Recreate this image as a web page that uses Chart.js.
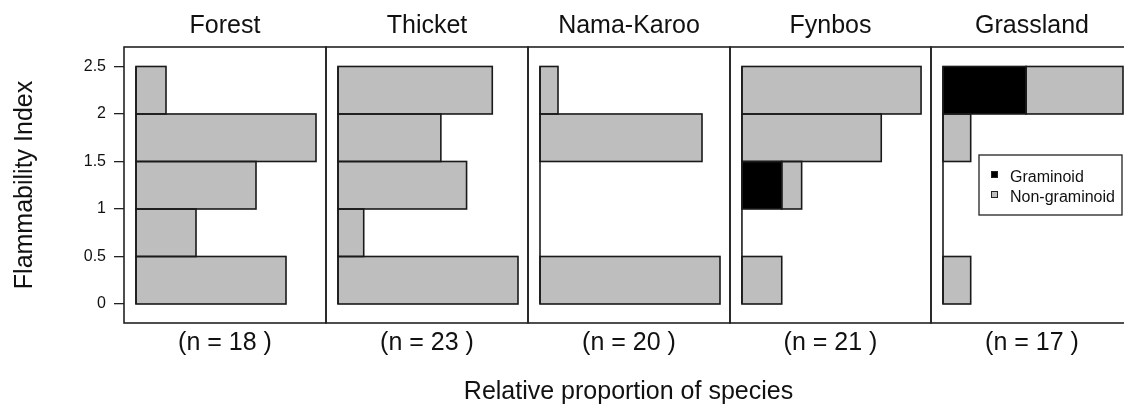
<!DOCTYPE html>
<html>
<head>
<meta charset="utf-8">
<script src="https://cdn.jsdelivr.net/npm/chart.js@4.4.1/dist/chart.umd.min.js"></script>
<style>
  html, body { margin: 0; padding: 0; background: #fff; overflow: hidden; }
  #wrap { position: relative; width: 1140px; height: 405px; }
  #wrap canvas { position: absolute; left: 0; top: 0; }
</style>
</head>
<body>
<div id="wrap"></div>
<script>
// Vegetation types and the number of species sampled in each
const habitats = ['Forest', 'Thicket', 'Nama-Karoo', 'Fynbos', 'Grassland'];
const speciesTotals = [18, 23, 20, 21, 17];

// Flammability index bins (centres) and the tick labels on the bin edges
const binCentres = [0.25, 0.75, 1.25, 1.75, 2.25];
const indexTicks = [0, 0.5, 1, 1.5, 2, 2.5];

// Species counts per bin (0-0.5, 0.5-1, 1-1.5, 1.5-2, 2-2.5), one row per habitat
const graminoidCounts = [
  [0, 0, 0, 0, 0],
  [0, 0, 0, 0, 0],
  [0, 0, 0, 0, 0],
  [0, 0, 2, 0, 0],
  [0, 0, 0, 0, 6]
];
const nonGraminoidCounts = [
  [5, 2, 4, 6, 1],
  [7, 1, 5, 4, 6],
  [10, 0, 0, 9, 1],
  [2, 0, 1, 7, 9],
  [2, 0, 0, 2, 7]
];

const seriesNames = ['Graminoid', 'Non-graminoid'];
const seriesColours = ['#000000', '#BEBEBE'];

// ---- layout ----
const W = 1140, H = 405;
const FAMILY = '"Liberation Sans", Arial, Helvetica, sans-serif';
const TEXT = '#111';
const EDGE = '#1a1a1a';
const panelLefts = [124, 326, 528, 730, 931];
const panelRights = [326, 528, 730, 931, 1133];
const panelTop = 47, panelBottom = 323;

// Outlines, zero line, frame, header, sample size and (optionally) the key
const panelFrame = {
  id: 'panelFrame',
  afterDatasetsDraw(chart, args, opts) {
    const { ctx, chartArea: a, scales: { x, y } } = chart;
    ctx.save();

    // bar outlines, centred on the bar edges so neighbouring bins share one line
    ctx.strokeStyle = EDGE;
    ctx.lineWidth = 1.6;
    chart.data.datasets.forEach((ds, d) => {
      chart.getDatasetMeta(d).data.forEach(el => {
        const p = el.getProps(['x', 'y', 'base', 'height'], true);
        const l = Math.min(p.x, p.base), r = Math.max(p.x, p.base);
        if (r - l < 0.5) return;
        ctx.strokeRect(l, p.y - p.height / 2, r - l, p.height);
      });
    });

    // zero line along the binned range (shows empty bins)
    const x0 = x.getPixelForValue(0);
    ctx.beginPath();
    ctx.moveTo(x0, y.getPixelForValue(indexTicks[0]));
    ctx.lineTo(x0, y.getPixelForValue(indexTicks[indexTicks.length - 1]));
    ctx.stroke();

    // panel box
    ctx.strokeStyle = '#222';
    ctx.lineWidth = 1.6;
    ctx.strokeRect(a.left, a.top, a.right - a.left, a.bottom - a.top);

    // header and sample size
    const cx = (a.left + a.right) / 2;
    ctx.fillStyle = TEXT;
    ctx.font = '25px ' + FAMILY;
    ctx.textAlign = 'center';
    ctx.textBaseline = 'alphabetic';
    ctx.fillText(opts.title, cx, 33);
    ctx.fillText('(n = ' + opts.n + ' )', cx, 350);

    if (opts.axisTitle) {
      const mid = (panelLefts[0] + panelRights[panelRights.length - 1]) / 2;
      ctx.fillText(opts.axisTitle, mid, 399);
    }

    if (opts.key) {
      const bx = a.left + 48, by = 155, bw = 143, bh = 60;
      ctx.fillStyle = '#fff';
      ctx.fillRect(bx, by, bw, bh);
      ctx.strokeStyle = '#222';
      ctx.lineWidth = 1.3;
      ctx.strokeRect(bx, by, bw, bh);
      ctx.font = '16px ' + FAMILY;
      ctx.textAlign = 'left';
      chart.data.datasets.forEach((ds, k) => {
        const rowY = 175 + k * 20;
        ctx.fillStyle = ds.backgroundColor;
        ctx.fillRect(bx + 12, rowY - 4, 7, 7);
        ctx.strokeStyle = '#222';
        ctx.lineWidth = 1;
        ctx.strokeRect(bx + 12.5, rowY - 3.5, 6, 6);
        ctx.fillStyle = TEXT;
        ctx.fillText(ds.label, bx + 31, rowY + 7);
      });
    }
    ctx.restore();
  }
};

const wrap = document.getElementById('wrap');

habitats.forEach((name, i) => {
  const canvas = document.createElement('canvas');
  canvas.width = W;
  canvas.height = H;
  wrap.appendChild(canvas);

  const n = speciesTotals[i];
  const countSets = [graminoidCounts[i], nonGraminoidCounts[i]];
  const datasets = countSets.map((counts, s) => ({
    label: seriesNames[s],
    data: binCentres.map((b, k) => ({ x: counts[k] / n, y: b })),
    backgroundColor: seriesColours[s],
    borderWidth: 0,
    categoryPercentage: 1,
    barPercentage: 1,
    inflateAmount: 0
  }));

  // widest stacked bar sets this panel's horizontal extent
  const widest = Math.max(...binCentres.map((b, k) =>
    (graminoidCounts[i][k] + nonGraminoidCounts[i][k]) / n));

  const first = i === 0;
  const yScale = {
    type: 'linear',
    min: -0.2,
    max: 2.705,
    offset: false,
    stacked: true,
    display: first,
    afterBuildTicks(scale) { scale.ticks = indexTicks.map(v => ({ value: v })); },
    grid: { offset: false }
  };
  if (first) {
    Object.assign(yScale, {
      afterFit(scale) { scale.width = panelLefts[0]; },
      grid: { display: true, offset: false, drawOnChartArea: false, drawTicks: true, tickLength: 10, color: '#222', lineWidth: 1.3 },
      border: { display: false },
      ticks: { font: { size: 16, family: FAMILY }, color: TEXT, padding: 8, callback: v => String(v) },
      title: { display: true, text: 'Flammability Index', font: { size: 25, family: FAMILY }, color: TEXT, padding: { top: 10, bottom: 0 } }
    });
  }

  new Chart(canvas, {
    type: 'bar',
    data: { datasets },
    plugins: [panelFrame],
    options: {
      indexAxis: 'y',
      responsive: false,
      animation: false,
      events: [],
      layout: {
        padding: {
          left: first ? 0 : panelLefts[i],
          right: W - panelRights[i],
          top: panelTop,
          bottom: H - panelBottom
        }
      },
      scales: {
        x: {
          type: 'linear',
          stacked: true,
          display: false,
          min: -widest * 12 / 180,
          max: widest * 190 / 180
        },
        y: yScale
      },
      plugins: {
        legend: { display: false },
        tooltip: { enabled: false },
        panelFrame: {
          title: name,
          n: n,
          key: i === habitats.length - 1,
          axisTitle: first ? 'Relative proportion of species' : null
        }
      }
    }
  });
});
</script>
</body>
</html>
